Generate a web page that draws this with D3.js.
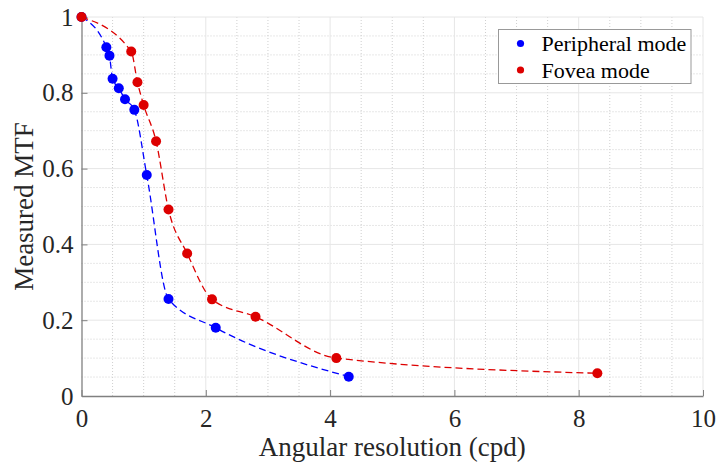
<!DOCTYPE html>
<html>
<head>
<meta charset="utf-8">
<script src="https://cdn.jsdelivr.net/npm/d3@7"></script>
<style>
  body { margin: 0; background: #fff; }
  svg { display: block; font-family: "Liberation Serif", "Times New Roman", serif; }
</style>
</head>
<body>
<svg id="chart"></svg>
<script>
// Data
const peripheralX = [0, 0.40, 0.45, 0.50, 0.60, 0.70, 0.85, 1.05, 1.40, 2.16, 4.30];
const peripheralY = [1, 0.920, 0.898, 0.837, 0.812, 0.783, 0.755, 0.583, 0.256, 0.180, 0.051];
const foveaX = [0, 0.80, 0.90, 1.00, 1.20, 1.40, 1.70, 2.10, 2.80, 4.10, 8.30];
const foveaY = [1, 0.909, 0.828, 0.768, 0.672, 0.492, 0.376, 0.255, 0.209, 0.100, 0.060];
const seriesNames = ["Peripheral mode", "Fovea mode"];
const seriesColors = ["#0000ff", "#dd0000"];
const xTicks = [0, 2, 4, 6, 8, 10];
const yTicks = [0, 0.2, 0.4, 0.6, 0.8, 1];

// Chart dimensions
const width = 717;
const height = 463;
const margin = { top: 17, right: 14, bottom: 67, left: 81.5 };
const innerW = width - margin.left - margin.right;
const innerH = height - margin.top - margin.bottom;

const svg = d3.select("#chart")
  .attr("width", width)
  .attr("height", height);

const g = svg.append("g")
  .attr("transform", `translate(${margin.left},${margin.top})`);

// Scales
const x = d3.scaleLinear().domain([0, 10]).range([0, innerW]);
const y = d3.scaleLinear().domain([0, 1]).range([innerH, 0]);

// Minor grid (dotted)
const xMinor = d3.range(0, 10.01, 0.5).filter(v => v % 2 !== 0);
const yMinor = d3.range(0, 1.001, 0.05).map(v => +v.toFixed(2)).filter(v => Math.round(v * 100) % 20 !== 0);

g.append("g").selectAll("line")
  .data(xMinor)
  .enter().append("line")
  .attr("x1", d => x(d)).attr("x2", d => x(d))
  .attr("y1", 0).attr("y2", innerH)
  .attr("stroke", "#cfcfcf").attr("stroke-width", 1)
  .attr("stroke-dasharray", "1,2");

g.append("g").selectAll("line")
  .data(yMinor)
  .enter().append("line")
  .attr("x1", 0).attr("x2", innerW)
  .attr("y1", d => y(d)).attr("y2", d => y(d))
  .attr("stroke", "#cfcfcf").attr("stroke-width", 1)
  .attr("stroke-dasharray", "1,2");

// Major grid (solid, light)
g.append("g").selectAll("line")
  .data(xTicks.slice(1))
  .enter().append("line")
  .attr("x1", d => x(d)).attr("x2", d => x(d))
  .attr("y1", 0).attr("y2", innerH)
  .attr("stroke", "#e6e6e6").attr("stroke-width", 1);

g.append("g").selectAll("line")
  .data(yTicks.slice(1))
  .enter().append("line")
  .attr("x1", 0).attr("x2", innerW)
  .attr("y1", d => y(d)).attr("y2", d => y(d))
  .attr("stroke", "#e6e6e6").attr("stroke-width", 1);

// Axes
const xAxis = g.append("g")
  .attr("transform", `translate(0,${innerH})`)
  .call(d3.axisBottom(x).tickValues(xTicks).tickSizeInner(-6).tickSizeOuter(0).tickPadding(13).tickFormat(d3.format("d")));

const yAxis = g.append("g")
  .call(d3.axisLeft(y).tickValues(yTicks).tickSizeInner(-6).tickSizeOuter(0).tickPadding(8).tickFormat(d => d === 0 || d === 1 ? d : d3.format(".1f")(d)));

[xAxis, yAxis].forEach(a => {
  a.attr("font-family", "Liberation Serif, serif").attr("font-size", 25);
  a.select(".domain").attr("stroke", "#808080").attr("stroke-width", 1.3);
  a.selectAll(".tick line").attr("stroke", "#808080");
  a.selectAll(".tick text").attr("fill", "#262626");
});

// Axis titles
svg.append("text")
  .attr("x", margin.left + innerW / 2)
  .attr("y", 456)
  .attr("text-anchor", "middle")
  .attr("fill", "#262626")
  .style("font-size", "27px")
  .text("Angular resolution (cpd)");

svg.append("text")
  .attr("transform", `translate(33,${margin.top + innerH / 2}) rotate(-90)`)
  .attr("text-anchor", "middle")
  .attr("fill", "#262626")
  .style("font-size", "27px")
  .text("Measured MTF");

// Series
const series = [
  { name: seriesNames[0], color: seriesColors[0], pts: peripheralX.map((v, i) => [v, peripheralY[i]]) },
  { name: seriesNames[1], color: seriesColors[1], pts: foveaX.map((v, i) => [v, foveaY[i]]) }
];

const line = d3.line()
  .x(d => x(d[0]))
  .y(d => y(d[1]))
  .curve(d3.curveMonotoneX);

series.forEach(s => {
  g.append("path")
    .datum(s.pts)
    .attr("d", line)
    .attr("fill", "none")
    .attr("stroke", s.color)
    .attr("stroke-width", 1.3)
    .attr("stroke-dasharray", "7,4");
});

series.forEach(s => {
  g.append("g").selectAll("circle")
    .data(s.pts)
    .enter().append("circle")
    .attr("cx", d => x(d[0]))
    .attr("cy", d => y(d[1]))
    .attr("r", 5)
    .attr("fill", s.color);
});

// Legend
const legend = svg.append("g").attr("transform", "translate(498.5,29.5)");
legend.append("rect")
  .attr("width", 192.5)
  .attr("height", 54)
  .attr("fill", "#fff")
  .attr("stroke", "#999")
  .attr("stroke-width", 1);

series.forEach((s, i) => {
  const row = legend.append("g").attr("transform", `translate(0,${14 + i * 26.5})`);
  row.append("circle")
    .attr("cx", 22)
    .attr("cy", 0)
    .attr("r", 3.6)
    .attr("fill", s.color);
  row.append("text")
    .attr("x", 43)
    .attr("y", 0)
    .attr("dy", "0.35em")
    .attr("fill", "#000")
    .style("font-size", "22px")
    .text(s.name);
});
</script>
</body>
</html>
